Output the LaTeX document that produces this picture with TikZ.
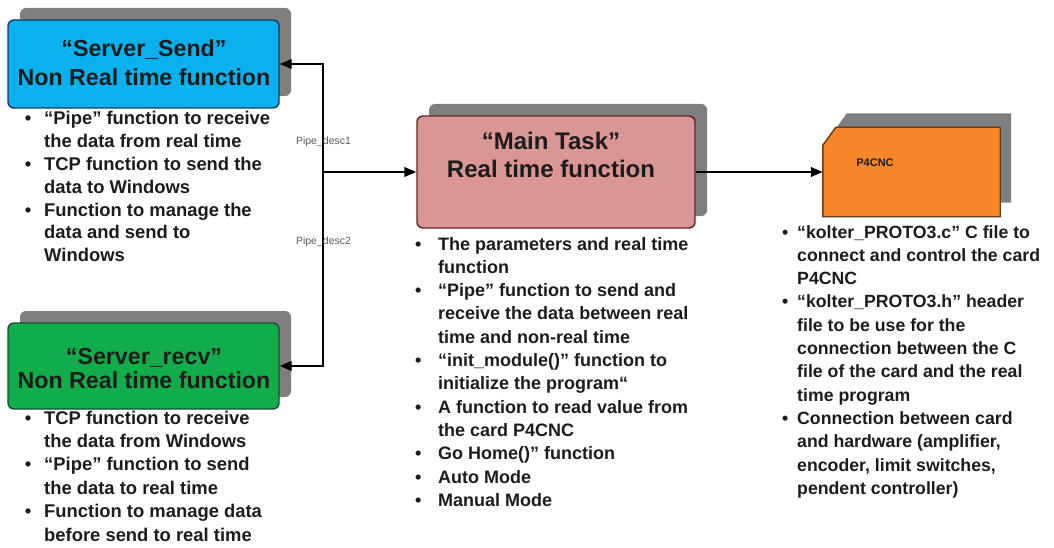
\documentclass[tikz,border=0pt]{standalone}
\usepackage{fontspec}
\setmainfont{Liberation Sans}
\usetikzlibrary{arrows.meta,shadows}
\definecolor{ssblue}{HTML}{0AB1EE}
\definecolor{ssborder}{HTML}{17375E}
\definecolor{srgreen}{HTML}{12AD4B}
\definecolor{srborder}{HTML}{1B4D2B}
\definecolor{mtpink}{HTML}{D99694}
\definecolor{mtborder}{HTML}{632523}
\definecolor{pforange}{HTML}{F7872A}
\definecolor{pfborder}{HTML}{6B3A12}
\definecolor{shadowgray}{HTML}{7F7F7F}
\definecolor{bodytext}{HTML}{1C1C1C}
\definecolor{lblgray}{HTML}{5A5A5A}
\newcommand\bux[1]{\makebox[#1]{\textbullet}}
\begin{document}
\begin{tikzpicture}[x=1pt,y=-1pt,
  box/.style={rounded corners=6pt, line width=1.4pt, inner sep=0pt,
    general shadow={fill=shadowgray, shadow xshift=12pt, shadow yshift=12pt}},
  title/.style n args={2}{font=\bfseries\fontsize{#1}{#2}\selectfont, inner sep=0pt, anchor=base, text=bodytext},
  blist/.style n args={2}{font=\bfseries\fontsize{#1}{#2}\selectfont, inner sep=0pt, anchor=base west, text=bodytext},
  conn/.style={line width=2.2pt, -{Triangle[length=12pt,width=9.5pt]}},
  pipelbl/.style={font=\fontsize{10.5}{12}\selectfont, text=lblgray, inner sep=0pt}]
\useasboundingbox (0,0) rectangle (1054,548);

% boxes
\node[box, fill=ssblue, draw=ssborder, minimum width=271pt, minimum height=88pt] (ss) at (143.5,64) {};
\node[box, fill=srgreen, draw=srborder, minimum width=271pt, minimum height=86pt] (sr) at (143.5,366) {};
\node[box, fill=mtpink, draw=mtborder, minimum width=278pt, minimum height=112pt] (mt) at (556,172) {};
\node[inner sep=0pt, minimum width=177pt, minimum height=89pt] (p4) at (911.5,172) {};
\fill[shadowgray] ([xshift=11pt,yshift=-4pt]p4.north west) -- ([xshift=24pt,yshift=14pt]p4.north west)
  -- ([xshift=11pt,yshift=14pt]p4.north east) -- ([xshift=11pt,yshift=14pt]p4.south east)
  -- ([xshift=11pt,yshift=14pt]p4.south west) -- cycle;
\filldraw[fill=pforange, draw=pfborder, line width=1.4pt] ([yshift=-18pt]p4.north west) -- ([xshift=13pt]p4.north west)
  -- (p4.north east) -- (p4.south east) -- (p4.south west) -- cycle;

% titles
\node[title={23.2}{29.5}] (sst) at (144,56.5) {\begin{tabular}[t]{@{}c@{}}“Server\_Send”\\Non Real time function\end{tabular}};
\node[title={23.2}{24.5}] (srt) at (144,364) {\begin{tabular}[t]{@{}c@{}}“Server\_recv”\\Non Real time function\end{tabular}};
\node[title={24}{28}] (mtt) at (551,149.5) {\begin{tabular}[t]{@{}c@{}}“Main Task”\\Real time function\end{tabular}};
\node[font=\bfseries\fontsize{11}{13}\selectfont, text=bodytext, inner sep=0pt] (p4t) at (875,163) {P4CNC};

% connectors
\coordinate (j) at (323,172);
\draw[conn] (j) |- (ss);
\draw[conn] (j) |- (sr);
\draw[conn] (j) -- (mt);
\draw[conn] (mt) -- (p4);
\node[pipelbl] (pd1) at (323.5,142) {Pipe\_desc1};
\node[pipelbl] (pd2) at (323.5,242) {Pipe\_desc2};

% bullet lists
\node[blist={18.4}{22.9}] (ssl) at (12,124.5) {\begin{tabular}[t]{@{}l@{}l@{}}
\bux{32pt} & “Pipe” function to receive\\
 & the data from real time\\
\bux{32pt} & TCP function to send the\\
 & data to Windows\\
\bux{32pt} & Function to manage the\\
 & data and send to\\
 & Windows
\end{tabular}};

\node[blist={18.4}{23.4}] (srl) at (12,424) {\begin{tabular}[t]{@{}l@{}l@{}}
\bux{32pt} & TCP function to receive\\
 & the data from Windows\\
\bux{32pt} & “Pipe” function to send\\
 & the data to real time\\
\bux{32pt} & Function to manage data\\
 & before send to real time
\end{tabular}};

\node[blist={18}{23.3}] (mtl) at (398,250) {\begin{tabular}[t]{@{}l@{}l@{}}
\bux{40pt} & The parameters and real time\\
 & function\\
\bux{40pt} & “Pipe” function to send and\\
 & receive the data between real\\
 & time and non-real time\\
\bux{40pt} & “init\_module()” function to\\
 & initialize the program“\\
\bux{40pt} & A function to read value from\\
 & the card P4CNC\\
\bux{40pt} & Go Home()” function\\
\bux{40pt} & Auto Mode\\
\bux{40pt} & Manual Mode
\end{tabular}};

\node[blist={17.7}{23.3}] (p4l) at (773,238) {\begin{tabular}[t]{@{}l@{}l@{}}
\bux{24pt} & “kolter\_PROTO3.c” C file to\\
 & connect and control the card\\
 & P4CNC\\
\bux{24pt} & “kolter\_PROTO3.h” header\\
 & file to be use for the\\
 & connection between the C\\
 & file of the card and the real\\
 & time program\\
\bux{24pt} & Connection between card\\
 & and hardware (amplifier,\\
 & encoder, limit switches,\\
 & pendent controller)
\end{tabular}};
\end{tikzpicture}
\end{document}
